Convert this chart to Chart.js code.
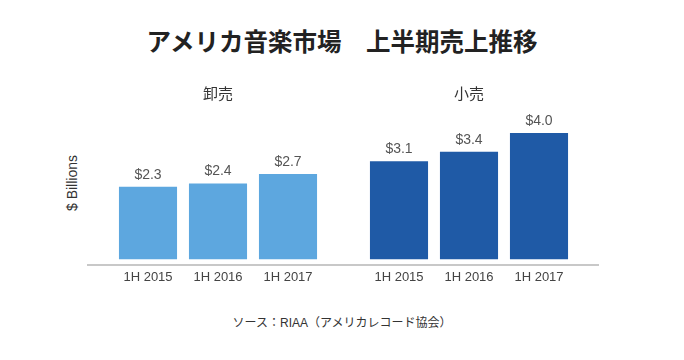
<!DOCTYPE html>
<html>
<head>
<meta charset="utf-8">
<script src="https://cdn.jsdelivr.net/npm/chart.js@4"></script>
<style>
  html, body { margin: 0; padding: 0; background: #fff; }
  #wrap { position: relative; width: 684px; height: 360px; overflow: hidden;
    font-family: 'Liberation Sans', Arial, 'Noto Sans CJK JP', sans-serif; color: #222; }
  #title { position: absolute; left: 0; width: 684px; top: 26px; text-align: center;
    font-family: 'Noto Sans CJK JP', sans-serif; font-weight: bold; font-size: 24.5px; line-height: 30px; }
  #ytitle { position: absolute; left: 72px; top: 183px; transform: translate(-50%, -50%) rotate(-90deg);
    font-size: 14px; color: #333; white-space: nowrap; }
  #baseline { position: absolute; left: 87px; top: 264px; width: 512px; height: 2px; background: #c8c8c8; }
  #source { position: absolute; left: 0; width: 684px; top: 315px; text-align: center;
    font-size: 12px; line-height: 16px; color: #333; }
  canvas { position: absolute; top: 82px; }
  #left { left: 113px; }
  #right { left: 364px; }
</style>
</head>
<body>
<div id="wrap">
  <div id="title">アメリカ音楽市場　上半期売上推移</div>
  <div id="ytitle">$ Billions</div>
  <div id="baseline"></div>
  <canvas id="left" width="210" height="213"></canvas>
  <canvas id="right" width="210" height="213"></canvas>
  <div id="source">ソース：RIAA（アメリカレコード協会）</div>
</div>
<script>
const groups = ['卸売', '小売'];
const periods = ['1H 2015', '1H 2016', '1H 2017'];
const wholesale = [2.3, 2.4, 2.7];
const retail = [3.1, 3.4, 4.0];
const yMax = 4.85;

const latinFont = "'Liberation Sans', Arial, sans-serif";

// Draw "$x.x" above each bar
const valueLabels = {
  id: 'valueLabels',
  afterDatasetsDraw(chart) {
    const ctx = chart.ctx;
    const values = chart.data.datasets[0].data;
    ctx.save();
    ctx.font = '14px ' + latinFont;
    ctx.fillStyle = '#555';
    ctx.textAlign = 'center';
    ctx.textBaseline = 'bottom';
    chart.getDatasetMeta(0).data.forEach((bar, i) => {
      ctx.fillText('$' + values[i].toFixed(1), bar.x, bar.y - 5);
    });
    ctx.restore();
  },
};

function makeChart(id, name, values, color) {
  return new Chart(document.getElementById(id), {
    type: 'bar',
    data: {
      labels: periods,
      datasets: [{
        label: name,
        data: values,
        backgroundColor: color,
        categoryPercentage: 1,
        barPercentage: 0.83,
      }],
    },
    options: {
      responsive: false,
      animation: false,
      layout: { padding: 0 },
      plugins: {
        legend: { display: false },
        tooltip: { enabled: false },
        title: {
          display: true,
          text: name,
          color: '#333',
          font: { family: "'Noto Sans CJK JP', sans-serif", size: 15, weight: 'normal' },
          padding: { top: 2, bottom: 4 },
        },
      },
      scales: {
        x: {
          grid: { display: false, drawTicks: false },
          border: { display: false },
          ticks: { color: '#444', padding: 10, font: { family: latinFont, size: 13 } },
        },
        y: { display: false, min: 0, max: yMax },
      },
    },
    plugins: [valueLabels],
  });
}

makeChart('left', groups[0], wholesale, '#5da7df');
makeChart('right', groups[1], retail, '#1f5aa6');
</script>
</body>
</html>
